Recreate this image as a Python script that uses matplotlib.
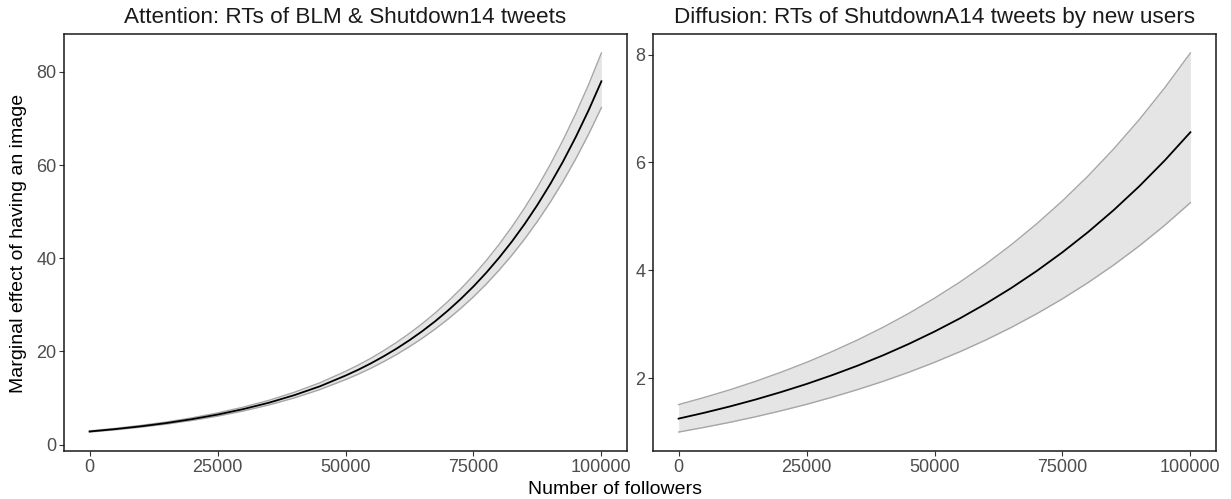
import matplotlib
matplotlib.use("Agg")
import matplotlib.pyplot as plt

plt.rcParams['font.family'] = ['Liberation Sans', 'DejaVu Sans']

# Left panel: Attention (finer sampling on the steep part)
att_x = [0, 5000, 10000, 15000, 20000, 25000, 30000, 35000, 40000, 45000, 50000,
         52500, 55000, 57500, 60000, 62500, 65000, 67500, 70000, 72500, 75000,
         77500, 80000, 82500, 85000, 87500, 90000, 92500, 95000, 97500, 100000]
att_fit = [2.8, 3.31, 3.91, 4.61, 5.45, 6.43, 7.60, 8.97, 10.6, 12.5, 14.8,
           16.06, 17.45, 18.97, 20.61, 22.40, 24.34, 26.45, 28.75, 31.24, 33.94,
           36.89, 40.10, 43.57, 47.35, 51.46, 55.92, 60.77, 66.05, 71.77, 78.0]
att_hi = [2.93, 3.47, 4.10, 4.84, 5.73, 6.78, 8.02, 9.48, 11.22, 13.26, 15.71,
          17.07, 18.55, 20.19, 21.95, 23.87, 25.96, 28.23, 30.71, 33.40, 36.31,
          39.50, 42.96, 46.72, 50.81, 55.26, 60.10, 65.36, 71.09, 77.30, 84.08]
att_lo = [2.68, 3.16, 3.73, 4.39, 5.18, 6.10, 7.20, 8.49, 10.01, 11.80, 13.94,
          15.11, 16.41, 17.82, 19.35, 21.02, 22.82, 24.78, 26.91, 29.22, 31.72,
          34.46, 37.43, 40.64, 44.13, 47.92, 52.03, 56.50, 61.37, 66.63, 72.36]

# Right panel: Diffusion
dif_x = [0, 5000, 10000, 15000, 20000, 25000, 30000, 35000, 40000, 45000, 50000,
         55000, 60000, 65000, 70000, 75000, 80000, 85000, 90000, 95000, 100000]
dif_fit = [1.25, 1.358, 1.475, 1.603, 1.742, 1.892, 2.056, 2.233, 2.426, 2.636, 2.864,
           3.111, 3.380, 3.672, 3.990, 4.335, 4.709, 5.116, 5.558, 6.039, 6.561]
dif_hi = [1.510, 1.642, 1.784, 1.940, 2.110, 2.293, 2.494, 2.710, 2.946, 3.203, 3.483,
          3.785, 4.115, 4.474, 4.865, 5.289, 5.749, 6.250, 6.794, 7.387, 8.031]
dif_lo = [1.001, 1.088, 1.181, 1.284, 1.395, 1.515, 1.647, 1.789, 1.943, 2.111, 2.294,
          2.492, 2.707, 2.941, 3.196, 3.472, 3.772, 4.098, 4.452, 4.837, 5.255]

titles = ["Attention: RTs of BLM & Shutdown14 tweets",
          "Diffusion: RTs of ShutdownA14 tweets by new users"]
x_ticks = [0, 25000, 50000, 75000, 100000]
left_yticks = [0, 20, 40, 60, 80]
right_yticks = [2, 4, 6, 8]

fig = plt.figure(figsize=(12.31, 4.99), dpi=100)
ax1 = fig.add_axes([64/1231, 48/499, 563/1231, 417/499])
ax2 = fig.add_axes([653/1231, 48/499, 563/1231, 417/499])

panels = [(ax1, att_x, att_fit, att_lo, att_hi, left_yticks, titles[0]),
          (ax2, dif_x, dif_fit, dif_lo, dif_hi, right_yticks, titles[1])]

for ax, xs, fit, lo, hi, yt, title in panels:
    ax.fill_between(xs, lo, hi, color='#e5e5e5', lw=0, zorder=1)
    ax.plot(xs, lo, color='#a6a6a6', lw=1.0, zorder=2)
    ax.plot(xs, hi, color='#a6a6a6', lw=1.0, zorder=2)
    ax.plot(xs, fit, color='black', lw=1.3, zorder=3)
    xmin, xmax = min(xs), max(xs)
    xr = xmax - xmin
    ax.set_xlim(xmin - 0.05 * xr, xmax + 0.05 * xr)
    ymin, ymax = min(lo), max(hi)
    yr = ymax - ymin
    ax.set_ylim(ymin - 0.05 * yr, ymax + 0.05 * yr)
    ax.set_xticks(x_ticks)
    ax.set_xticklabels([str(v) for v in x_ticks])
    ax.set_yticks(yt)
    ax.set_yticklabels([str(v) for v in yt])
    ax.tick_params(axis='both', colors='#333333', labelcolor='#4d4d4d',
                   labelsize=13, length=3.5, width=0.8, pad=2)
    for sp in ax.spines.values():
        sp.set_color('#1a1a1a')
        sp.set_linewidth(1.1)
    ax.set_title(title, fontsize=16.2, color='#1a1a1a', pad=8)

fig.text(0.5, 5/499, "Number of followers", ha='center', va='baseline',
         fontsize=14, color='black')
fig.text(19/1231, (499 - 243)/499, "Marginal effect of having an image", ha='center',
         va='center', rotation=90, fontsize=14, color='black')

fig.savefig("out.png", dpi=100)
